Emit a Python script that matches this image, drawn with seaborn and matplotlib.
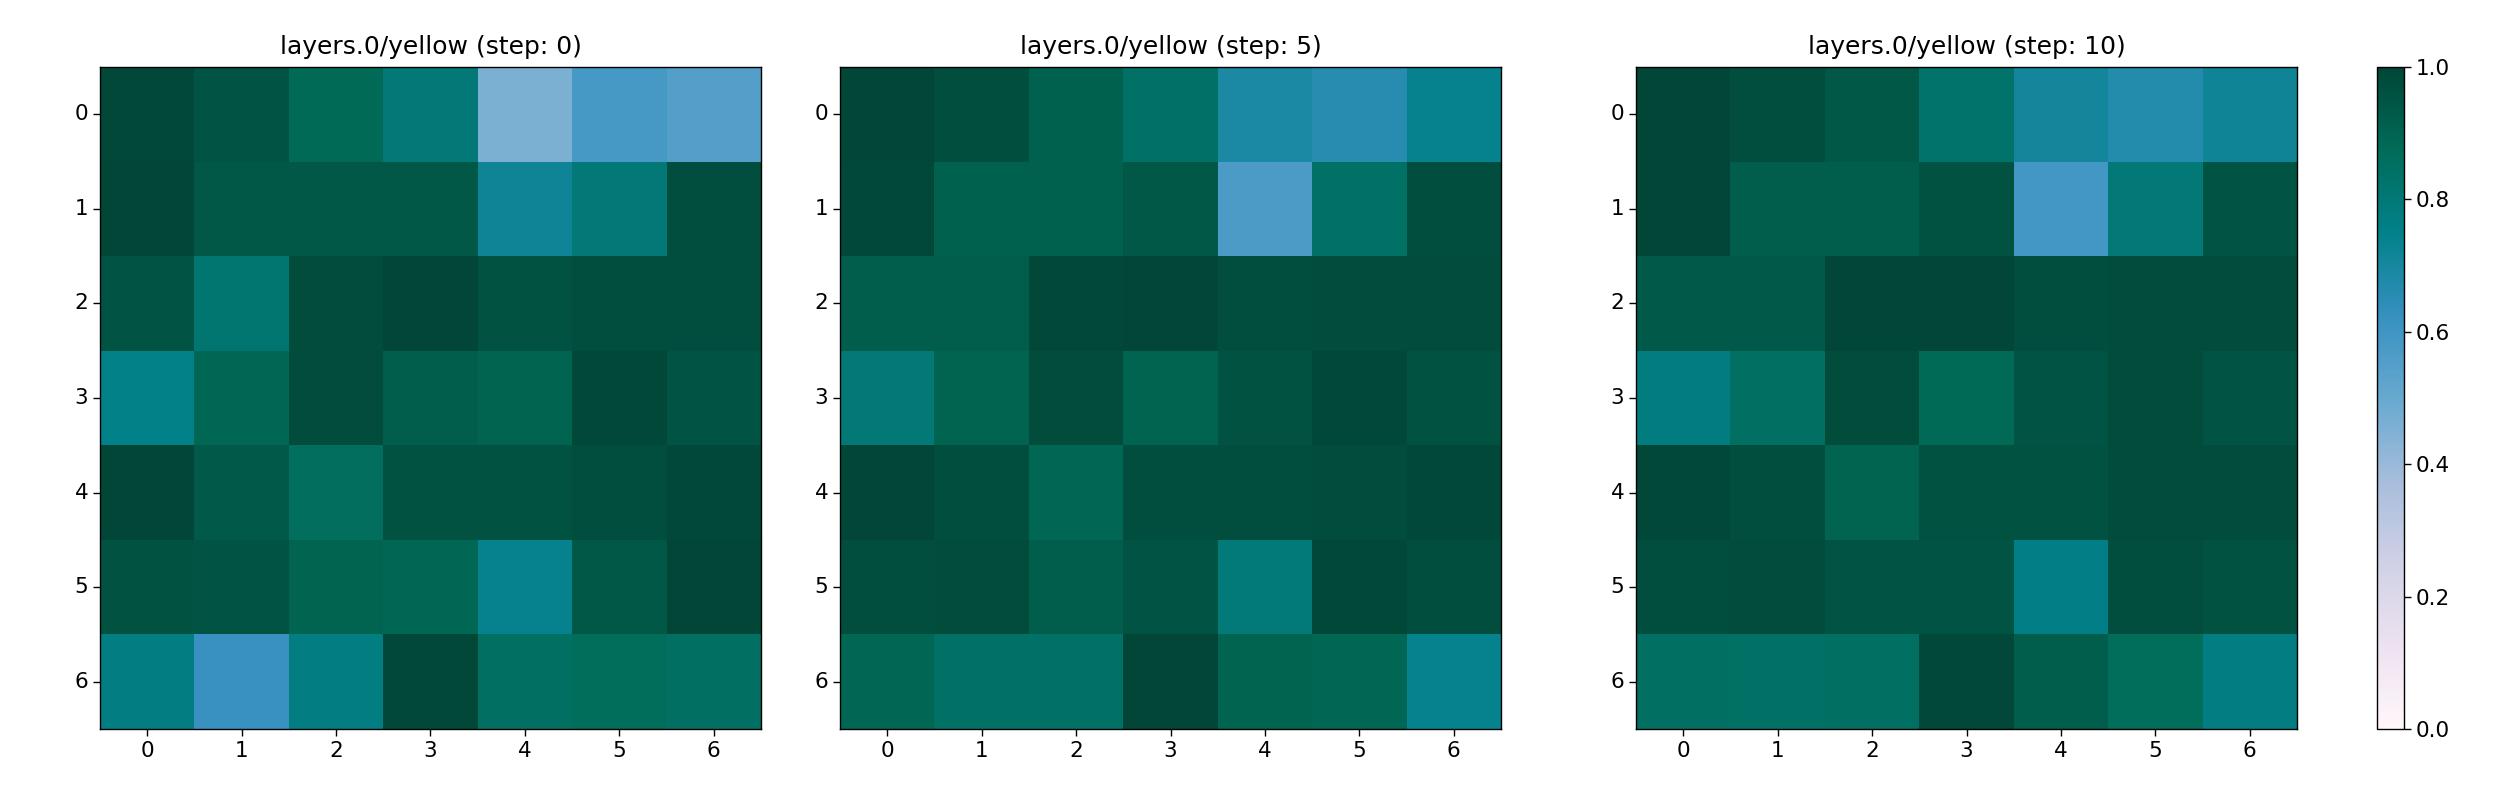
import numpy as np
import pandas as pd
import matplotlib
matplotlib.use('Agg')
import matplotlib.pyplot as plt
import seaborn as sns

# cell values (7x7 per step)
rows = [0, 1, 2, 3, 4, 5, 6]
cols = [0, 1, 2, 3, 4, 5, 6]
steps = [0, 5, 10]

step_0 = [
    [0.99, 0.95, 0.88, 0.80, 0.46, 0.58, 0.55],
    [1.00, 0.94, 0.94, 0.94, 0.72, 0.80, 0.97],
    [0.95, 0.82, 0.98, 1.00, 0.96, 0.97, 0.97],
    [0.75, 0.89, 0.98, 0.92, 0.90, 0.99, 0.95],
    [1.00, 0.93, 0.86, 0.96, 0.96, 0.97, 0.99],
    [0.96, 0.95, 0.90, 0.89, 0.74, 0.94, 1.00],
    [0.77, 0.62, 0.77, 0.99, 0.85, 0.87, 0.85],
]
step_5 = [
    [1.00, 0.97, 0.91, 0.84, 0.69, 0.66, 0.74],
    [0.99, 0.91, 0.91, 0.94, 0.57, 0.84, 0.97],
    [0.92, 0.92, 0.99, 1.00, 0.97, 0.98, 0.98],
    [0.80, 0.90, 0.98, 0.90, 0.96, 0.99, 0.96],
    [1.00, 0.97, 0.89, 0.97, 0.97, 0.98, 0.99],
    [0.97, 0.98, 0.92, 0.95, 0.79, 0.99, 0.97],
    [0.89, 0.84, 0.84, 1.00, 0.90, 0.89, 0.74],
]
step_10 = [
    [1.00, 0.97, 0.94, 0.83, 0.71, 0.67, 0.72],
    [1.00, 0.92, 0.92, 0.96, 0.59, 0.80, 0.95],
    [0.93, 0.93, 1.00, 1.00, 0.97, 0.98, 0.98],
    [0.78, 0.85, 0.98, 0.88, 0.95, 0.98, 0.95],
    [0.99, 0.97, 0.90, 0.96, 0.96, 0.98, 0.98],
    [0.97, 0.98, 0.95, 0.95, 0.76, 0.97, 0.96],
    [0.85, 0.84, 0.85, 0.99, 0.92, 0.87, 0.77],
]


def make_plot():
    plt.rcParams['font.family'] = ['DejaVu Sans']
    fig = plt.figure(figsize=(25, 7.98), dpi=100)
    lefts = [0.040, 0.336, 0.6544]
    axes = [fig.add_axes([l, 0.0865, 0.2644, 0.8296]) for l in lefts]
    cax = fig.add_axes([0.9508, 0.0865, 0.0108, 0.8296])

    for i, (ax, step, vals) in enumerate(zip(axes, steps, [step_0, step_5, step_10])):
        df = pd.DataFrame(vals, index=rows, columns=cols)
        sns.heatmap(df, cmap='PuBuGn', vmin=0, vmax=1, ax=ax,
                    cbar=(i == 0), cbar_ax=cax if i == 0 else None)
        ax.set_title('layers.0/yellow (step: ' + str(step) + ')', fontsize=18, pad=9)
        for sp in ax.spines.values():
            sp.set_visible(True)
            sp.set_linewidth(1.0)
            sp.set_color('black')
        ax.tick_params(axis='both', labelsize=15.5, length=5, width=1)
        ax.set_yticklabels(rows, rotation=0)
        ax.set_xticklabels(cols, rotation=0)

    cb = axes[0].collections[0].colorbar
    cb.outline.set_linewidth(1.0)
    cb.outline.set_edgecolor('black')
    cb.set_ticks([0.0, 0.2, 0.4, 0.6, 0.8, 1.0])
    cax.tick_params(labelsize=15.5, length=5, width=1)

    plt.savefig('out.png', dpi=100)
    plt.close()


if __name__ == '__main__':
    make_plot()
